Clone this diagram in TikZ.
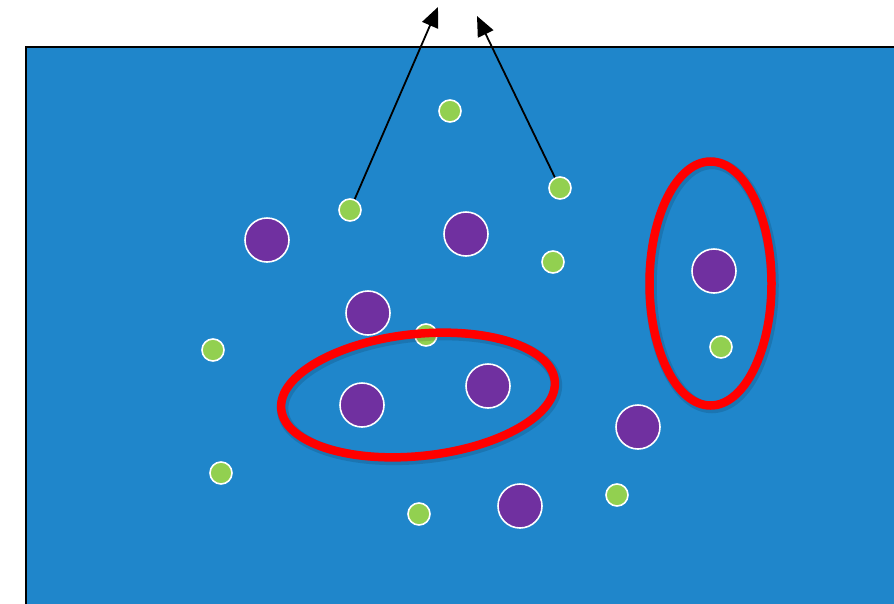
\documentclass[tikz,border=0pt]{standalone}
\usetikzlibrary{shapes.geometric,arrows.meta}
\definecolor{seablue}{RGB}{31,134,203}
\definecolor{dotgreen}{RGB}{146,208,80}
\definecolor{dotpurple}{RGB}{112,48,160}
\definecolor{ringred}{RGB}{255,0,0}
\tikzset{
  small/.style={circle,draw=white,line width=1.6pt,fill=dotgreen,minimum size=22pt,inner sep=0pt},
  big/.style={circle,draw=white,line width=1.6pt,fill=dotpurple,minimum size=44pt,inner sep=0pt},
  ring/.style={ellipse,draw=ringred,line width=8.5pt,inner sep=0pt},
  ringshade/.style={ellipse,draw=black,draw opacity=0.12,line width=11.5pt,inner sep=0pt},
  pointer/.style={line width=1.8pt,-{Triangle[length=20pt,width=17pt]}}
}
\begin{document}
\begin{tikzpicture}[x=1pt,y=-1pt]
  \useasboundingbox (0,0) rectangle (894,603);
  % water field
  \begin{scope}
    \clip (0,0) rectangle (894,603);
    \draw[fill=seablue,draw=black,line width=1.5pt] (26,47) rectangle (910,620);
  \end{scope}
  % small green dots
  \node[small] (g1) at (450,111) {};
  \node[small] (g2) at (350,210) {};
  \node[small] (g3) at (560,188) {};
  \node[small] (g4) at (553,262) {};
  \node[small] (g5) at (213,350) {};
  \node[small] (g6) at (426,335) {};
  \node[small] (g7) at (721,347) {};
  \node[small] (g8) at (221,473) {};
  \node[small] (g9) at (419,514) {};
  \node[small] (g10) at (617,495) {};
  % large purple dots
  \node[big] (p1) at (267,240) {};
  \node[big] (p2) at (466,234) {};
  \node[big] (p3) at (368,313) {};
  \node[big] (p4) at (362,405) {};
  \node[big] (p5) at (488,386) {};
  \node[big] (p6) at (714,271) {};
  \node[big] (p7) at (638,427) {};
  \node[big] (p8) at (520,506) {};
  % groupings, each with a soft shade under its ring
  \node[ringshade,minimum width=275pt,minimum height=122pt,rotate=6] at (419.5,397) {};
  \node[ringshade,minimum width=122pt,minimum height=244pt] at (712,285.5) {};
  \node[ring,minimum width=275pt,minimum height=122pt,rotate=6] (r1) at (418,395) {};
  \node[ring,minimum width=122pt,minimum height=244pt] (r2) at (710.5,283.5) {};
  % escaping dots
  \coordinate (t1) at (438,7);
  \coordinate (t2) at (477,16);
  \draw[pointer] (g2) -- (t1);
  \draw[pointer] (g3) -- (t2);
\end{tikzpicture}
\end{document}
